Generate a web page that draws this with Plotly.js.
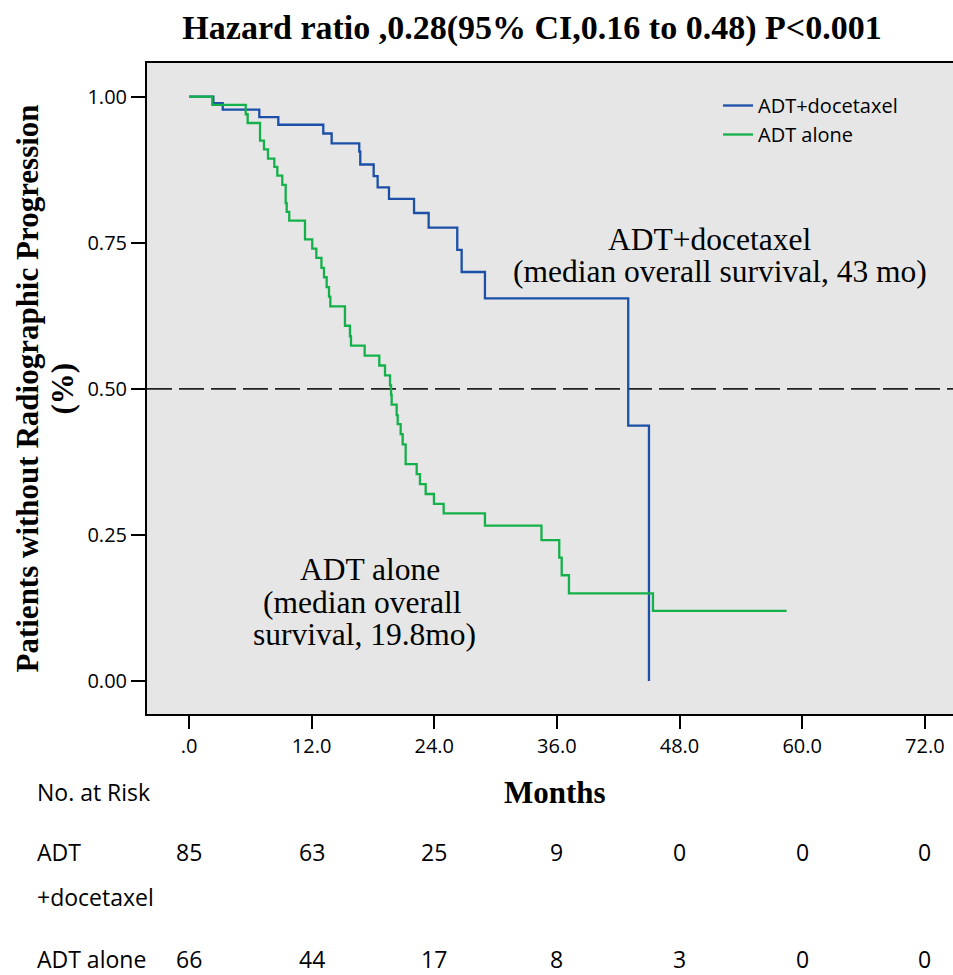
<!DOCTYPE html>
<html><head><meta charset="utf-8">
<script src="https://cdn.plot.ly/plotly-3.0.1.min.js"></script>
<style>html,body{margin:0;padding:0;background:#fff;overflow:hidden}</style>
</head><body><div id="chart" style="width:953px;height:975px"></div>
<script>
// ADT + docetaxel (Kaplan-Meier step points: months, survival)
const comboMonths = [0, 2.38, 3.30, 6.88, 8.74, 13.14, 13.96, 16.66, 16.76, 18.07, 18.46, 19.57, 22.02, 23.45, 26.25, 26.68, 28.96, 42.98, 45.01];
const comboSurv   = [1.00, 0.989, 0.978, 0.965, 0.952, 0.937, 0.920, 0.906, 0.884, 0.864, 0.845, 0.825, 0.801, 0.776, 0.738, 0.700, 0.655, 0.437, 0.000];

// ADT alone
const aloneMonths = [0, 2.28, 5.55, 5.74, 6.95, 7.34, 7.73, 8.35, 8.64, 9.13, 9.46, 9.56, 9.81, 11.35, 12.06, 12.46, 12.96, 13.21, 13.47, 13.70, 13.83, 15.26, 15.75, 15.85, 17.19, 18.62, 19.18, 19.67, 19.77, 19.83, 20.32, 20.42, 20.71, 20.91, 21.20, 22.28, 22.60, 23.16, 23.97, 24.92, 28.96, 34.49, 36.23, 36.47, 37.18, 45.40, 58.48];
const aloneSurv   = [1.00, 0.986, 0.970, 0.955, 0.925, 0.910, 0.894, 0.880, 0.865, 0.849, 0.818, 0.803, 0.788, 0.756, 0.740, 0.724, 0.707, 0.691, 0.674, 0.658, 0.641, 0.608, 0.590, 0.574, 0.557, 0.540, 0.523, 0.506, 0.490, 0.473, 0.455, 0.4395, 0.4225, 0.405, 0.371, 0.354, 0.337, 0.320, 0.303, 0.287, 0.266, 0.241, 0.211, 0.181, 0.150, 0.120, 0.120];

const xTickVals  = [0, 12, 24, 36, 48, 60, 72];
const xTickText  = ['.0', '12.0', '24.0', '36.0', '48.0', '60.0', '72.0'];
const yTickVals  = [0, 0.25, 0.5, 0.75, 1.0];

const riskTimes = [0, 12, 24, 36, 48, 60, 72];
const riskCombo = [85, 63, 25, 9, 0, 0, 0];
const riskAlone = [66, 44, 17, 8, 3, 0, 0];

const SERIF = '"Liberation Serif", "Times New Roman", serif';
const SANS = '"Open Sans", "Noto Sans", sans-serif';
const BLUE = '#1B4FA8';
const GREEN = '#14B14B';

const traces = [
  {x: comboMonths, y: comboSurv, type: 'scatter', mode: 'lines', name: 'ADT+docetaxel',
   line: {shape: 'hv', color: BLUE, width: 2.3}},
  {x: aloneMonths, y: aloneSurv, type: 'scatter', mode: 'lines', name: 'ADT alone',
   line: {shape: 'hv', color: GREEN, width: 2.3}}
];

// paper y from pixel y (plot area 63..714)
const py = (px) => (714 - px) / 651;

const ann = [];
const serifAnn = (text, x, y, xref, yref, size, extra) => Object.assign({
  text: text, x: x, y: y, xref: xref, yref: yref, showarrow: false,
  xanchor: 'center', yanchor: 'middle',
  font: {family: SERIF, size: size, color: '#000'}
}, extra || {});

ann.push(serifAnn('ADT+docetaxel', 50.9, (681 - 240) / 584, 'x', 'y', 31.5));
ann.push(serifAnn('(median overall survival, 43 mo)', 52.0, (681 - 272) / 584, 'x', 'y', 31.5));
ann.push(serifAnn('ADT alone', 17.7, (681 - 570) / 584, 'x', 'y', 31.5));
ann.push(serifAnn('(median overall', 17.0, (681 - 603) / 584, 'x', 'y', 31.5));
ann.push(serifAnn('survival, 19.8mo)', 17.2, (681 - 635) / 584, 'x', 'y', 31.5));

ann.push(serifAnn('<b>Months</b>', (555 - 147) / 806, py(792), 'paper', 'paper', 31));
ann.push(serifAnn('<b>Patients without Radiographic Progression</b>', (27 - 147) / 806, 0.5, 'paper', 'paper', 31, {textangle: -90}));
ann.push(serifAnn('<b>(%)</b>', (62 - 147) / 806, 0.5, 'paper', 'paper', 31, {textangle: -90}));

const sansAnn = (text, x, y, xref, xanchor) => ({
  text: text, x: x, y: y, xref: xref, yref: 'paper', showarrow: false,
  xanchor: xanchor, yanchor: 'middle',
  font: {family: SANS, size: 23, color: '#000'}
});
ann.push(sansAnn('No. at Risk', (35 - 147) / 806, py(792), 'paper', 'left'));
ann.push(sansAnn('ADT', (35 - 147) / 806, py(852), 'paper', 'left'));
ann.push(sansAnn('+docetaxel', (35 - 147) / 806, py(897), 'paper', 'left'));
ann.push(sansAnn('ADT alone', (35 - 147) / 806, py(959), 'paper', 'left'));
riskTimes.forEach((t, i) => {
  ann.push(sansAnn(String(riskCombo[i]), t, py(852), 'x', 'center'));
  ann.push(sansAnn(String(riskAlone[i]), t, py(959), 'x', 'center'));
});

const layout = {
  width: 953, height: 975,
  margin: {l: 147, r: 0, t: 63, b: 261},
  paper_bgcolor: '#ffffff',
  plot_bgcolor: '#E6E6E6',
  title: {
    text: '<b>Hazard ratio ,0.28(95% CI,0.16 to 0.48) P<0.001</b>',
    font: {family: SERIF, size: 34, color: '#000'},
    xref: 'container', x: 532 / 953, xanchor: 'center',
    yref: 'container', y: 1 - 27 / 975, yanchor: 'middle'
  },
  xaxis: {
    range: [-4.11, 74.76], tickvals: xTickVals, ticktext: xTickText,
    showgrid: false, zeroline: false,
    showline: true, linecolor: '#000', linewidth: 2, mirror: true,
    ticks: 'outside', ticklen: 13, tickwidth: 2, tickcolor: '#000',
    tickfont: {family: SANS, size: 20, color: '#000'}
  },
  yaxis: {
    range: [-0.0565, 1.0577], tickvals: yTickVals, tickformat: '.2f',
    showgrid: false, zeroline: false,
    showline: true, linecolor: '#000', linewidth: 2, mirror: false,
    ticks: 'outside', ticklen: 14, tickwidth: 2, tickcolor: '#000',
    tickfont: {family: SANS, size: 20, color: '#000'}
  },
  showlegend: true,
  legend: {
    x: (718 - 147) / 806, y: py(86), xanchor: 'left', yanchor: 'top',
    bgcolor: 'rgba(0,0,0,0)', borderwidth: 0,
    font: {family: SANS, size: 20, color: '#000'},
    itemwidth: 30, tracegroupgap: 0
  },
  shapes: [{
    type: 'line', xref: 'paper', x0: 0, x1: 1, yref: 'y', y0: 0.5, y1: 0.5,
    line: {color: '#222', width: 1.6, dash: '25px,7px'}, layer: 'below'
  }],
  annotations: ann
};

Plotly.newPlot('chart', traces, layout, {displayModeBar: false, responsive: false});
</script>
</body></html>
